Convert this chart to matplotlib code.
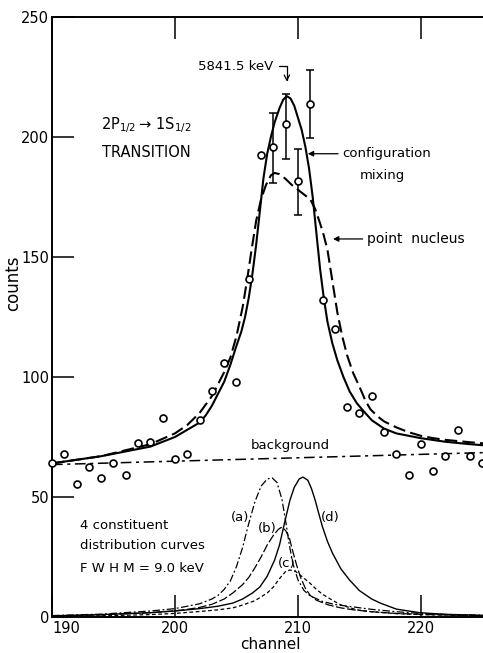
import numpy as np
import matplotlib.pyplot as plt

# measured spectrum (channel, counts)
chan = [190, 191, 192, 193, 194, 195, 196, 197, 198, 199, 200, 201, 202, 203,
        204, 205, 206, 207, 208, 209, 210, 211, 212, 213, 214, 215, 216, 217,
        218, 219, 220, 221, 222, 223, 224, 225]
counts = [64, 68, 55.5, 62.5, 58, 64, 59, 72.5, 73, 83, 66, 68, 82, 94,
          106, 98, 141, 192.5, 196, 205.5, 181.7, 213.7, 132, 120, 87.5, 85, 92, 77,
          68, 59, 72, 61, 67, 78, 67, 64]

# error bars on the peak points
err_ch = [208, 209, 210, 211]
err_val = [196, 205.5, 181.7, 213.7]
err_lo = [181, 191, 167.5, 199.5]
err_hi = [210, 218, 195, 228]

# configuration mixing fit (solid)
mix_ch = [190, 192, 194, 196, 198, 200, 201, 202, 202.5, 203, 203.5, 204, 204.5,
          205, 205.4, 205.7, 206, 206.3, 206.6, 206.9, 207.2, 207.5, 207.8, 208.1,
          208.5, 208.8, 209.1, 209.4, 209.7, 210, 210.3, 210.6, 210.9, 211.2, 211.5,
          211.8, 212.1, 212.4, 212.8, 213.2, 213.7, 214.2, 214.8, 215.3, 216, 217,
          218, 219, 220, 222, 224, 225.2]
mix_val = [64, 65.5, 67, 69, 71, 75, 78, 81, 84, 88, 93, 98, 105,
           113, 119, 125, 133, 143, 155, 169, 183, 193, 200, 206,
           212, 215.5, 217, 216, 213, 208, 203, 196, 187, 175, 160,
           145, 133, 123, 114, 107, 100, 94, 89, 86, 82, 78.5,
           76.5, 75.5, 74.5, 73, 72, 71.5]

# point nucleus fit (dashed)
pn_ch = [190, 194, 198, 200, 201, 202, 203, 203.5, 204, 204.5, 205, 205.5, 205.85,
         206.2, 206.6, 207, 207.4, 207.8, 208.1, 208.5, 209, 209.5, 210, 210.5, 211,
         211.4, 211.8, 212.1, 212.4, 212.8, 213.2, 213.6, 214, 214.5, 215, 215.5,
         215.9, 216.5, 217, 218, 219, 220, 221, 222, 224, 225.2]
pn_val = [64, 67, 72, 76.5, 80, 85, 92, 97, 102, 108, 117, 129, 140,
          152, 165, 174, 180, 184, 185, 184.5, 182.5, 180, 178, 176, 174,
          170, 164, 159, 153, 140, 127, 117, 109, 101.5, 96, 90,
          86.5, 83.5, 81.5, 79, 77, 75.5, 74.5, 73.8, 72.8, 72.3]

bg_ch = [190, 225.2]
bg_val = [63.5, 68.5]

# constituent distribution curves
a_ch = [190, 194, 198, 200, 201, 202, 203, 203.5, 204, 204.5, 205, 205.5, 206,
        206.5, 207, 207.5, 207.9, 208.3, 208.7, 209, 209.3, 209.6, 210, 210.5,
        211, 212, 213, 214.5, 216, 218, 220, 222, 225.2]
a_val = [0.6, 1.2, 2.5, 3.5, 4.5, 5.5, 7.5, 9, 11.5, 15, 21, 29, 39,
         48, 54.5, 57.5, 58, 56, 49, 40, 30, 22, 15.5, 11,
         8.8, 6.5, 5.2, 4.2, 3.2, 2.2, 1.5, 1.1, 0.7]
b_ch = [190, 194, 198, 200, 201, 202, 203, 204, 204.7, 205.5, 206, 206.5, 207,
        207.5, 208, 208.4, 208.7, 209, 209.3, 209.6, 209.9, 210.2, 210.6, 211,
        211.5, 212.5, 213.5, 214.5, 216, 218, 220, 225.2]
b_val = [0.4, 0.9, 1.8, 2.6, 3.2, 4, 5.3, 7.5, 10, 13.5, 16.5, 20.5, 25,
         30, 34, 36.5, 37.5, 36, 33, 27, 21.5, 16.7, 12, 9,
         7, 5, 3.8, 3, 2.2, 1.5, 1.1, 0.5]
c_ch = [190, 194, 198, 200, 202, 203.5, 204.7, 205.5, 206.5, 207.5, 208, 208.5,
        209, 209.35, 209.8, 210.3, 211, 211.5, 212, 212.8, 213.5, 214.8, 216,
        218, 220, 225.2]
c_val = [0.2, 0.5, 1, 1.5, 2.3, 3, 3.8, 5, 6.8, 10, 12.5, 16,
         19, 19.6, 19, 17, 14, 11.5, 9.5, 7, 5, 3, 2.2,
         1.4, 1, 0.5]
d_ch = [190, 194, 198, 200, 202, 203.5, 204.7, 205.5, 206.3, 206.9, 207.5, 208.1,
        208.5, 208.9, 209.35, 209.7, 210.1, 210.4, 210.8, 211.1, 211.4, 211.7, 212,
        212.4, 212.8, 213.5, 214.2, 215, 216, 216.7, 218, 219.9, 222, 225.2]
d_val = [0.5, 1, 1.8, 2.5, 3.5, 4.5, 5.8, 7.5, 10, 12.5, 17, 23.7,
         30, 39, 48.7, 54, 57.5, 58.3, 57, 53.5, 48.7, 43, 37.5,
         31.5, 26.7, 20, 15.4, 11, 7.5, 5.8, 3.3, 1.8, 1.1, 0.7]

plt.rcParams['font.family'] = ['DejaVu Sans']
fig = plt.figure(figsize=(4.83, 6.53), dpi=100)
ax = fig.add_axes([0.1077, 0.0551, 0.8923, 0.919])

lw = 1.5
ax.plot(mix_ch, mix_val, 'k-', lw=lw)
ax.plot(pn_ch, pn_val, 'k', lw=lw, dashes=(6, 2.5))
ax.plot(bg_ch, bg_val, 'k', lw=1.1, dashes=(7, 3, 2, 3))

ax.plot(a_ch, a_val, 'k', lw=0.9, dashes=(6, 2, 1.5, 2))
ax.plot(b_ch, b_val, 'k', lw=0.9, dashes=(7, 2))
ax.plot(c_ch, c_val, 'k', lw=0.9, dashes=(3, 2))
ax.plot(d_ch, d_val, 'k-', lw=1.0)

yerr = [np.array(err_val) - np.array(err_lo), np.array(err_hi) - np.array(err_val)]
ax.errorbar(err_ch, err_val, yerr=yerr, fmt='none', ecolor='k', elinewidth=1.1,
            capsize=3, capthick=1.1)
ax.plot(chan, counts, 'o', ms=5, mfc='white', mec='k', mew=1.2, clip_on=False, zorder=5)

ax.set_xlim(190, 225.05)
ax.set_ylim(0, 250)
ax.set_xticks([190, 200, 210, 220])
ax.set_yticks([0, 50, 100, 150, 200, 250])
ax.tick_params(direction='in', length=16, width=1.1, labelsize=10.5,
               top=True, right=False)
ax.tick_params(axis='y', pad=2)
ax.tick_params(axis='x', pad=3)
ax.get_xticklabels()[0].set_horizontalalignment('left')
for sp in ['left', 'bottom', 'top']:
    ax.spines[sp].set_linewidth(1.4)
ax.spines['right'].set_visible(False)

ax.text(-0.09, 0.556, 'counts', transform=ax.transAxes, rotation=90,
        ha='center', va='center', fontsize=12)
ax.text(0.506, -0.046, 'channel', transform=ax.transAxes,
        ha='center', va='center', fontsize=11)

fs = 9.5
ax.text(194.0, 205, '2P$_{1/2}$\u2009\u2192 1S$_{1/2}$', fontsize=10.5, va='center')
ax.text(194.1, 193.5, 'TRANSITION', fontsize=10.5, va='center')

ax.annotate('5841.5 keV', xy=(209.1, 223), xytext=(208.0, 229.5),
            ha='right', va='center', fontsize=fs,
            arrowprops=dict(arrowstyle='->', lw=0.9,
                            connectionstyle='angle,angleA=0,angleB=90,rad=0',
                            shrinkA=2, shrinkB=0))

ax.annotate('configuration', xy=(210.8, 193), xytext=(213.6, 193),
            ha='left', va='center', fontsize=fs,
            arrowprops=dict(arrowstyle='-|>', lw=0.9, color='k', shrinkA=1, shrinkB=0,
                            mutation_scale=8))
ax.text(216.9, 184, 'mixing', ha='center', va='center', fontsize=fs)
ax.annotate('point  nucleus', xy=(212.85, 157.5), xytext=(215.6, 157.5),
            ha='left', va='center', fontsize=10,
            arrowprops=dict(arrowstyle='-|>', lw=0.9, color='k', shrinkA=1, shrinkB=0,
                            mutation_scale=8))
ax.text(209.4, 71.5, 'background', ha='center', va='center', fontsize=fs)

ax.text(192.3, 38.3, '4 constituent', va='center', fontsize=fs)
ax.text(192.3, 30, 'distribution curves', va='center', fontsize=fs)
ax.text(192.3, 20.4, 'F W H M = 9.0 keV', va='center', fontsize=fs)

ax.text(205.3, 41.6, '(a)', ha='center', va='center', fontsize=fs)
ax.text(207.5, 37, '(b)', ha='center', va='center', fontsize=fs)
ax.text(209.1, 22.5, '(c)', ha='center', va='center', fontsize=fs)
ax.text(212.6, 41.6, '(d)', ha='center', va='center', fontsize=fs)

fig.savefig('out.png', dpi=100)
